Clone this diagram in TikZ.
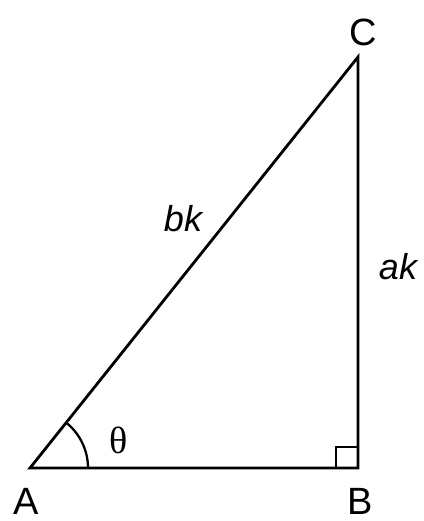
\documentclass[tikz,border=0pt]{standalone}
\usepackage{fontspec}
\setmainfont{Liberation Sans}
\newfontfamily\serifgreek{Liberation Serif}
\begin{document}
\begin{tikzpicture}[x=1pt,y=-1pt,
  edge/.style={line width=2.8pt, line cap=round, line join=miter},
  thin/.style={line width=2.3pt},
  lbl/.style={font=\fontsize{38}{40}\selectfont, inner sep=0pt},
  ilbl/.style={font=\fontsize{36}{40}\selectfont\itshape, inner sep=0pt}]
\useasboundingbox (0,0) rectangle (423,521);
\coordinate (A) at (30,468);
\coordinate (B) at (358,468);
\coordinate (C) at (358,57);
\draw[edge] (A) -- (B) -- (C) -- cycle;
\draw[thin] (336,468) -- (336,447) -- (358,447);
\draw[thin] ([shift={(0:58)}]A) arc[start angle=0, end angle=-51.4, radius=58];
\node[lbl] (la) at (26,501) {A};
\node[lbl] (lb) at (360,501) {B};
\node[lbl] (lc) at (363,32) {C};
\node[ilbl] (lbk) at (183,219) {bk};
\node[ilbl] (lak) at (398,267) {ak};
\node[inner sep=0pt, font=\fontsize{38}{40}\selectfont\serifgreek] (lt) at (119,440) {θ};
\end{tikzpicture}
\end{document}
